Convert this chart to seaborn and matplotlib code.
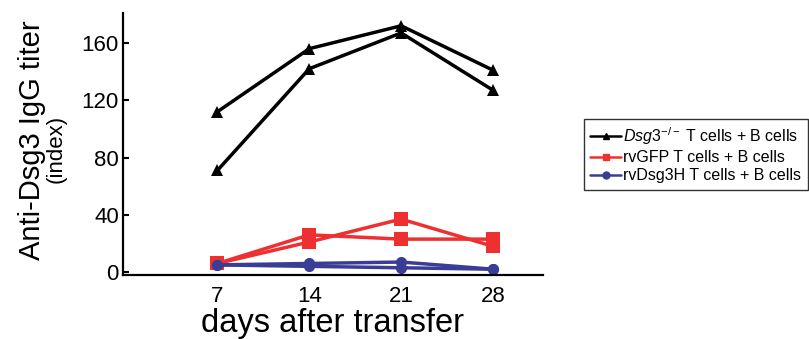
import numpy as np
import pandas as pd
import matplotlib
matplotlib.use('Agg')
import matplotlib.pyplot as plt
import seaborn as sns
from matplotlib.lines import Line2D

days = [7, 14, 21, 28]

# two mice per group
dsg3_a = [112, 156, 172, 141]
dsg3_b = [71, 142, 167, 127]
gfp_a = [6, 26, 23, 23]
gfp_b = [6, 21, 37, 18]
dsg3h_a = [5, 6, 7, 2]
dsg3h_b = [5, 4, 3, 2]

labels = [r'$\mathit{Dsg3}^{-/-}$ T cells + B cells',
          'rvGFP T cells + B cells',
          'rvDsg3H T cells + B cells']
colors = ['#000000', '#ee3030', '#3a3d96']
markers = ['^', 's', 'o']
msizes = [9, 10, 8]

series = [(labels[0], 'a', dsg3_a), (labels[0], 'b', dsg3_b),
          (labels[1], 'a', gfp_a), (labels[1], 'b', gfp_b),
          (labels[2], 'a', dsg3h_a), (labels[2], 'b', dsg3h_b)]
rows = []
for g, m, vals in series:
    for d, v in zip(days, vals):
        rows.append({'group': g, 'mouse': g + m, 'day': d, 'titer': v})
df = pd.DataFrame(rows)

sns.set_style('white')
plt.rcParams['font.family'] = ['Liberation Sans', 'DejaVu Sans']
plt.rcParams['mathtext.fontset'] = 'custom'
plt.rcParams['mathtext.it'] = 'Liberation Sans:italic'
plt.rcParams['mathtext.rm'] = 'Liberation Sans'
for k in ['text.color', 'axes.labelcolor', 'xtick.color', 'ytick.color']:
    plt.rcParams[k] = 'black'

fig = plt.figure(figsize=(8.09, 3.39), dpi=100)
ax = fig.add_axes([0.152, 0.189, 0.519, 0.773])

for lab, c, mk, ms in zip(labels, colors, markers, msizes):
    sub = df[df.group == lab]
    for mouse in sub.mouse.unique():
        s = sub[sub.mouse == mouse]
        sns.lineplot(data=s, x='day', y='titer', ax=ax, color=c, marker=mk,
                     markersize=ms, markeredgewidth=0, linewidth=2.5,
                     estimator=None, legend=False)

ax.set_xlim(-0.2, 31.8)
ax.set_ylim(-2, 181)
ax.set_xticks(days)
ax.set_yticks([0, 40, 80, 120, 160])
ax.tick_params(axis='x', length=0, labelsize=16, pad=8)
ax.tick_params(axis='y', direction='in', length=4, width=1.5, labelsize=16, pad=3, left=True)
for sp in ['top', 'right']:
    ax.spines[sp].set_visible(False)
for sp in ['left', 'bottom']:
    ax.spines[sp].set_linewidth(1.6)
    ax.spines[sp].set_color('black')
ax.set_xlabel('days after transfer', fontsize=23.5, labelpad=1)
ax.set_ylabel('')

fig.text(0.040, 0.587, 'Anti-Dsg3 IgG titer', rotation=90, fontsize=21,
         ha='center', va='center')
fig.text(0.069, 0.560, '(index)', rotation=90, fontsize=16,
         ha='center', va='center')

handles = [Line2D([], [], color=c, marker=mk, markersize=5, linewidth=1.8)
           for c, mk in zip(colors, markers)]
leg = fig.legend(handles, labels, loc='upper left', bbox_to_anchor=(0.722, 0.649),
                 fontsize=11.5, frameon=True, fancybox=False, handlelength=1.9,
                 handletextpad=0.15, borderpad=0.4, labelspacing=0.2,
                 borderaxespad=0)
leg.get_frame().set_edgecolor('black')
leg.get_frame().set_linewidth(1)

fig.savefig('out.png', dpi=100)
